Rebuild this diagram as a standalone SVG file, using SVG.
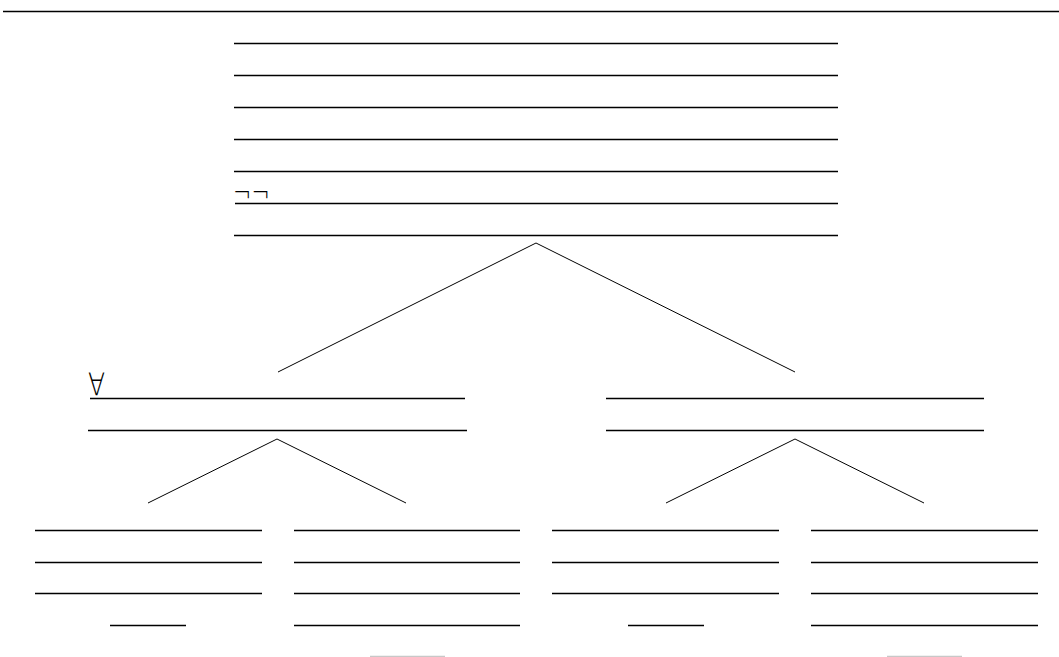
<svg xmlns="http://www.w3.org/2000/svg" width="1059" height="657" viewBox="0 0 1059 657">
<style>
.r{stroke:#000;stroke-width:1.3;fill:none}
.c{stroke:#000;stroke-width:1;fill:none}
.g{stroke:#c8c8c8;stroke-width:1.5;fill:none}
.t{font-family:"DejaVu Sans",sans-serif;font-weight:200;fill:#000}
</style>
<rect width="1059" height="657" fill="#fff"/>
<line class="r" x1="3" y1="11.5" x2="1059" y2="11.5"/>
<g id="root">
<line class="r" x1="234" y1="43.5" x2="838" y2="43.5"/>
<line class="r" x1="234" y1="75.5" x2="838" y2="75.5"/>
<line class="r" x1="234" y1="107.5" x2="838" y2="107.5"/>
<line class="r" x1="234" y1="139.5" x2="838" y2="139.5"/>
<line class="r" x1="234" y1="171.5" x2="838" y2="171.5"/>
<text class="t" x="233" y="202" font-size="27" textLength="37" lengthAdjust="spacingAndGlyphs">¬¬</text>
<line class="r" x1="235" y1="203.5" x2="838" y2="203.5"/>
<line class="r" x1="234" y1="235.5" x2="838" y2="235.5"/>
</g>
<g id="left">
<text class="t" x="88" y="395.5" font-size="25" transform="translate(88 395.5) scale(1 1.25) translate(-88 -395.5)">∀</text>
<line class="r" x1="90" y1="398.5" x2="465" y2="398.5"/>
<line class="r" x1="88" y1="430.5" x2="467" y2="430.5"/>
</g>
<g id="right">
<line class="r" x1="606" y1="398.5" x2="984" y2="398.5"/>
<line class="r" x1="606" y1="430.5" x2="984" y2="430.5"/>
</g>
<g id="ll">
<line class="r" x1="35" y1="530.5" x2="262" y2="530.5"/>
<line class="r" x1="35" y1="562.5" x2="262" y2="562.5"/>
<line class="r" x1="35" y1="593.5" x2="262" y2="593.5"/>
<line class="r" x1="110" y1="625.5" x2="186" y2="625.5"/>
</g>
<g id="lr">
<line class="r" x1="294" y1="530.5" x2="520" y2="530.5"/>
<line class="r" x1="294" y1="562.5" x2="520" y2="562.5"/>
<line class="r" x1="294" y1="593.5" x2="520" y2="593.5"/>
<line class="r" x1="294" y1="625.5" x2="520" y2="625.5"/>
<line class="g" x1="370" y1="656.5" x2="445" y2="656.5"/>
</g>
<g id="rl">
<line class="r" x1="552" y1="530.5" x2="779" y2="530.5"/>
<line class="r" x1="552" y1="562.5" x2="779" y2="562.5"/>
<line class="r" x1="552" y1="593.5" x2="779" y2="593.5"/>
<line class="r" x1="628" y1="625.5" x2="704" y2="625.5"/>
</g>
<g id="rr">
<line class="r" x1="811" y1="530.5" x2="1038" y2="530.5"/>
<line class="r" x1="811" y1="562.5" x2="1038" y2="562.5"/>
<line class="r" x1="811" y1="593.5" x2="1038" y2="593.5"/>
<line class="r" x1="811" y1="625.5" x2="1038" y2="625.5"/>
<line class="g" x1="887" y1="656.5" x2="962" y2="656.5"/>
</g>
<g id="connectors">
<line class="c" x1="536" y1="243" x2="278" y2="372"/>
<line class="c" x1="536" y1="243" x2="795" y2="372"/>
<line class="c" x1="277" y1="439" x2="148" y2="503"/>
<line class="c" x1="277" y1="439" x2="406" y2="503"/>
<line class="c" x1="795" y1="439" x2="666" y2="503"/>
<line class="c" x1="795" y1="439" x2="924" y2="503"/>
</g>
</svg>
